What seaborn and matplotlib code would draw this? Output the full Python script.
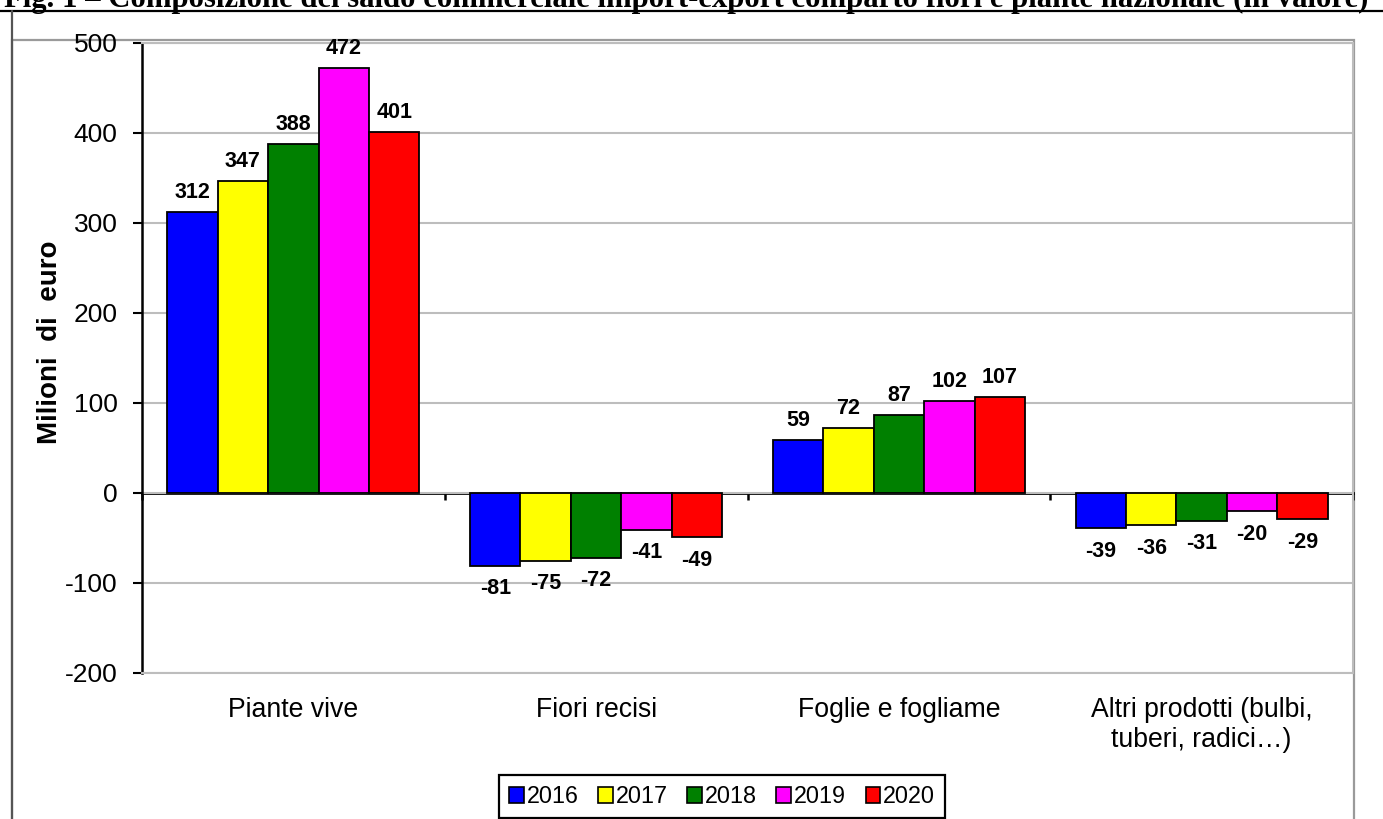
import matplotlib
matplotlib.use("Agg")
import matplotlib.pyplot as plt
from matplotlib.lines import Line2D
from matplotlib.patches import Patch, Rectangle
import numpy as np
import pandas as pd
import seaborn as sns

# --- data (milioni di euro) ---
categories = ["Piante vive", "Fiori recisi", "Foglie e fogliame",
              "Altri prodotti (bulbi,\ntuberi, radici…)"]
years = ["2016", "2017", "2018", "2019", "2020"]
v2016 = [312, -81, 59, -39]
v2017 = [347, -75, 72, -36]
v2018 = [388, -72, 87, -31]
v2019 = [472, -41, 102, -20]
v2020 = [401, -49, 107, -29]
year_colors = ["#0000FF", "#FFFF00", "#008000", "#FF00FF", "#FF0000"]
y_ticks = [-200, -100, 0, 100, 200, 300, 400, 500]
title = ("Fig. 1 – Composizione del saldo commerciale import-export "
         "comparto fiori e piante nazionale (in valore)")

series = [v2016, v2017, v2018, v2019, v2020]
df = pd.DataFrame(
    [(cat, yr, val) for yr, vals in zip(years, series) for cat, val in zip(categories, vals)],
    columns=["categoria", "anno", "valore"],
)

sns.set_style("white")
plt.rcParams["font.family"] = ["Liberation Sans", "DejaVu Sans"]
plt.rcParams.update({
    "text.color": "black",
    "axes.labelcolor": "black",
    "xtick.color": "black",
    "ytick.color": "black",
})

W, H = 1383, 819
fig = plt.figure(figsize=(W / 100, H / 100), dpi=100)
fig.patch.set_facecolor("white")

def fx(px):
    return px / W

def fy(py):
    return 1 - py / H

# chart frame
fig.add_artist(Rectangle((fx(12), fy(830)), fx(1354) - fx(12), fy(40) - fy(830),
                         transform=fig.transFigure, fill=False,
                         edgecolor="#9a9a9a", lw=1.6, zorder=0))
fig.add_artist(Line2D([0, 1], [fy(11), fy(11)], transform=fig.transFigure,
                      color="black", lw=1.6))
fig.add_artist(Line2D([fx(12), fx(12)], [fy(11), 0], transform=fig.transFigure,
                      color="#555555", lw=1.6))

# title, running past the top edge
t = fig.text(0.5, fy(7), title, ha="center", va="baseline",
             family="Liberation Serif", fontweight="bold", fontsize=18)
fig.canvas.draw()
r = fig.canvas.get_renderer()
w = t.get_window_extent(r).width
t.set_fontsize(18 * 1366 / w)
t.set_x(fx(686))

ax = fig.add_axes([fx(142), fy(673), fx(1353) - fx(142), fy(43) - fy(673)])
sns.barplot(data=df, x="categoria", y="valore", hue="anno", palette=year_colors,
            width=0.833, edgecolor="black", linewidth=1.3, saturation=1,
            ax=ax, errorbar=None)
if ax.legend_ is not None:
    ax.legend_.remove()

ax.set_ylim(-200, 500)
ax.set_xlim(-0.5, len(categories) - 0.5)
ax.set_yticks(y_ticks)
ax.set_yticklabels([str(v) for v in y_ticks])
ax.yaxis.grid(True, color="#bdbdbd", lw=1.5)
ax.set_axisbelow(True)

for side in ["top", "right", "bottom"]:
    ax.spines[side].set_color("#bdbdbd")
    ax.spines[side].set_linewidth(1.5)
ax.spines["left"].set_color("black")
ax.spines["left"].set_linewidth(1.8)

ax.tick_params(axis="y", direction="out", length=6.5, width=1.5, color="black",
               pad=11, labelsize=19, left=True)
ax.tick_params(axis="x", length=0, pad=17, labelsize=19.2)
ax.set_xlabel("")
ax.set_ylabel("Milioni  di  euro", fontsize=20, fontweight="bold")
ax.yaxis.set_label_coords((63 - 142) / (1353 - 142), (673 - 342) / 630)

# zero line with category separators
sec = ax.secondary_xaxis(200 / 700)
sec.set_xticks([i - 0.5 for i in range(len(categories) + 1)])
sec.set_xticklabels([])
sec.tick_params(length=5, width=1.8, color="black", direction="out")
sec.spines["bottom"].set_color("black")
sec.spines["bottom"].set_linewidth(2)

# value labels
for cont in ax.containers:
    vals = cont.datavalues
    pos = [f"{v:.0f}" if v >= 0 else "" for v in vals]
    neg = [f"{v:.0f}" if v < 0 else "" for v in vals]
    ax.bar_label(cont, labels=pos, padding=6.5, fontsize=15.5, fontweight="bold")
    ax.bar_label(cont, labels=neg, padding=9, fontsize=15.5, fontweight="bold")

handles = [Patch(facecolor=c, edgecolor="black", lw=1.2) for c in year_colors]
leg = fig.legend(handles, years, loc="lower center", bbox_to_anchor=(fx(722), fy(818)),
                 ncol=5, frameon=True, fancybox=False, framealpha=1, edgecolor="black",
                 fontsize=16.8, handlelength=0.62, handleheight=0.62, handletextpad=0.12,
                 columnspacing=0.85, borderpad=0.42, borderaxespad=0)
leg.get_frame().set_linewidth(1.6)

fig.savefig("out.png", dpi=100, facecolor="white")
